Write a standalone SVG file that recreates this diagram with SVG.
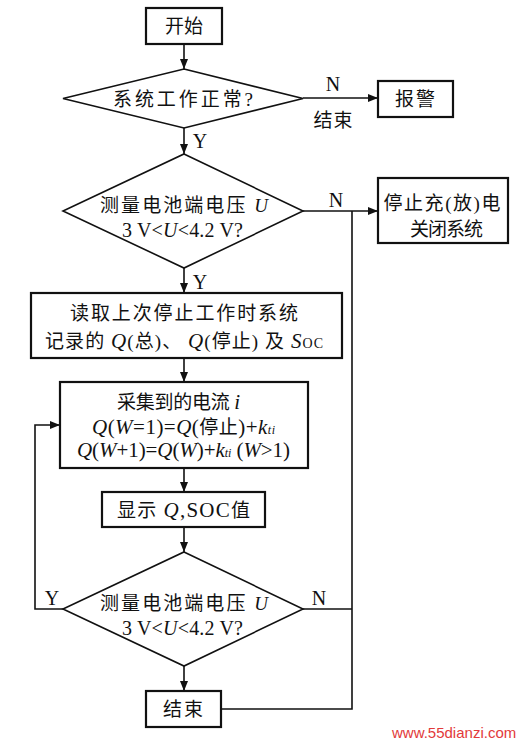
<svg xmlns="http://www.w3.org/2000/svg" width="531" height="743" viewBox="0 0 531 743">
<style>
text{font-family:"Liberation Serif","Noto Sans CJK SC",serif;font-size:19px;fill:#111;text-anchor:middle}
.box{fill:#fff;stroke:#111;stroke-width:2.2}
.dia{fill:#fff;stroke:#111;stroke-width:1.6}
.ln{fill:none;stroke:#111;stroke-width:1.6}
.i{font-style:italic}
.sub{font-size:12px}
.big{font-size:21px}
.lbl{font-size:20px}
.wm{font-family:"Liberation Sans",Arial,sans-serif;font-size:15px;fill:#e23a3a;text-anchor:start}
</style>
<defs>
<marker id="ah" viewBox="0 0 10 8" refX="10" refY="4" markerWidth="10" markerHeight="8" markerUnits="userSpaceOnUse" orient="auto">
<path d="M0,0 L10,4 L0,8 Z" fill="#111"/>
</marker>
</defs>
<rect width="531" height="743" fill="#fff"/>
<g id="connectors">
<line class="ln" x1="184" y1="44" x2="184" y2="69" marker-end="url(#ah)"/>
<line class="ln" x1="303" y1="98" x2="378" y2="98" marker-end="url(#ah)"/>
<line class="ln" x1="184" y1="128" x2="184" y2="154" marker-end="url(#ah)"/>
<line class="ln" x1="303" y1="211" x2="378" y2="211" marker-end="url(#ah)"/>
<line class="ln" x1="184" y1="268" x2="184" y2="293" marker-end="url(#ah)"/>
<line class="ln" x1="184" y1="358" x2="184" y2="382" marker-end="url(#ah)"/>
<line class="ln" x1="184" y1="468" x2="184" y2="492" marker-end="url(#ah)"/>
<line class="ln" x1="184" y1="527" x2="184" y2="552" marker-end="url(#ah)"/>
<line class="ln" x1="184" y1="666" x2="184" y2="691" marker-end="url(#ah)"/>
<polyline class="ln" points="63,609 35,609 35,425 60,425" marker-end="url(#ah)"/>
<line class="ln" x1="303" y1="609" x2="352" y2="609"/>
<polyline class="ln" points="221,709 352,709 352,211"/>
<text class="lbl" x="333" y="91">N</text>
<text x="333" y="127" textLength="39">结束</text>
<text class="lbl" x="200" y="148">Y</text>
<text class="lbl" x="336" y="207">N</text>
<text class="lbl" x="200" y="289">Y</text>
<text class="lbl" x="52" y="605">Y</text>
<text class="lbl" x="319" y="605">N</text>
</g>
<g id="start">
<rect class="box" x="146" y="8" width="76" height="36"/>
<text x="184" y="33" textLength="38">开始</text>
</g>
<g id="check-system">
<polygon class="dia" points="184,69 303,98.5 184,128 63,98.5"/>
<text x="183" y="106" textLength="140">系统工作正常?</text>
</g>
<g id="alarm">
<rect class="box" x="378" y="81" width="75" height="36"/>
<text x="415" y="106" textLength="40">报警</text>
</g>
<g id="check-voltage-1">
<polygon class="dia" points="184,154 303,211 184,268 63,211"/>
<text x="184" y="212" textLength="168">测量电池端电压 <tspan class="i">U</tspan></text>
<text class="lbl" x="182.5" y="237" textLength="121">3 V&lt;<tspan class="i">U</tspan>&lt;4.2 V?</text>
</g>
<g id="stop">
<rect class="box" x="378" y="178" width="130" height="65"/>
<text x="442" y="210" textLength="117">停止充(放)电</text>
<text x="446.5" y="236" textLength="73">关闭系统</text>
</g>
<g id="read">
<rect class="box" x="31" y="293" width="311" height="65"/>
<text x="184" y="320" textLength="228">读取上次停止工作时系统</text>
<text x="184" y="348" textLength="278">记录的 <tspan class="i big">Q</tspan>(总)、 <tspan class="i big">Q</tspan>(停止) 及 <tspan class="i big">S</tspan><tspan font-size="14">OC</tspan></text>
</g>
<g id="collect">
<rect class="box" x="60" y="382" width="248" height="86"/>
<text x="178.5" y="409" textLength="123">采集到的电流 <tspan class="i big">i</tspan></text>
<text class="big" x="183.5" y="434" textLength="183"><tspan class="i">Q</tspan>(<tspan class="i">W</tspan>=1)=<tspan class="i">Q</tspan>(<tspan font-size="19">停止</tspan>)+<tspan class="i">k</tspan><tspan class="i sub">ti</tspan></text>
<text class="big" x="183.5" y="457" textLength="213"><tspan class="i">Q</tspan>(<tspan class="i">W</tspan>+1)=<tspan class="i">Q</tspan>(<tspan class="i">W</tspan>)+<tspan class="i">k</tspan><tspan class="i sub">ti</tspan> (<tspan class="i">W</tspan>&gt;1)</text>
</g>
<g id="display">
<rect class="box" x="102" y="492" width="163" height="35"/>
<text x="183.5" y="517" textLength="133">显示 <tspan class="i big">Q</tspan><tspan class="big">,SOC</tspan>值</text>
</g>
<g id="check-voltage-2">
<polygon class="dia" points="184,552 303,609 184,666 63,609"/>
<text x="184" y="610" textLength="168">测量电池端电压 <tspan class="i">U</tspan></text>
<text class="lbl" x="182.5" y="635" textLength="121">3 V&lt;<tspan class="i">U</tspan>&lt;4.2 V?</text>
</g>
<g id="end">
<rect class="box" x="146" y="691" width="75" height="36"/>
<text x="183" y="716" textLength="40">结束</text>
</g>
<text class="wm" x="392" y="738">www.55dianzi.com</text>
</svg>
